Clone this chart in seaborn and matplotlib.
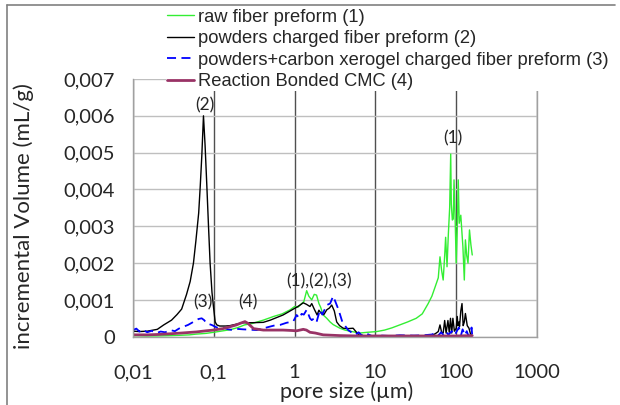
import matplotlib
matplotlib.use("Agg")
import matplotlib.pyplot as plt
import seaborn as sns
import pandas as pd
from matplotlib.lines import Line2D
from matplotlib.ticker import FixedLocator, FuncFormatter

# (pore size um, incremental volume mL/g)
raw_fiber = [
    (0.01, 0.00003), (0.015, 0.00002), (0.02, 0.00002), (0.03, 0.00003), (0.04, 0.00004),
    (0.05, 0.00005), (0.06, 0.00007), (0.08, 0.00009), (0.1, 0.00012), (0.13, 0.00016),
    (0.16, 0.00019), (0.2, 0.00025), (0.24, 0.00032), (0.3, 0.00036), (0.41, 0.00045),
    (0.55, 0.00055), (0.7, 0.00062), (0.88, 0.00073), (1.0, 0.00082), (1.1, 0.0008),
    (1.22, 0.0009), (1.3, 0.00095), (1.41, 0.00125), (1.5, 0.0011), (1.63, 0.001),
    (1.75, 0.00115), (1.87, 0.00113), (2.0, 0.0009), (2.1, 0.0008), (2.26, 0.00059),
    (2.5, 0.0005), (2.75, 0.0004), (3.0, 0.00033), (3.3, 0.00028), (3.64, 0.00023),
    (4.2, 0.00018), (5.1, 0.00014), (6.4, 0.0001), (8, 0.00012), (10.4, 0.00014),
    (13, 0.00018), (16, 0.00024), (20, 0.00032), (25, 0.0004), (32, 0.0005),
    (38, 0.00062), (45, 0.0009), (50, 0.0011), (55, 0.00136), (60, 0.0016),
    (63, 0.00217), (66, 0.0018), (69, 0.00154), (72, 0.0022), (74, 0.0027),
    (77, 0.0019), (80, 0.0028), (83, 0.0035), (85.5, 0.00496), (87, 0.0036),
    (89.6, 0.00317), (92, 0.0032), (94, 0.00426), (97, 0.0032), (100, 0.002),
    (103, 0.0029), (106, 0.00426), (109, 0.00308), (114, 0.0033), (118, 0.0028),
    (121, 0.00245), (126, 0.00154), (130, 0.00263), (135, 0.0022), (140, 0.002),
    (146, 0.0029), (152, 0.0025), (158, 0.00222),
]

powders_charged = [
    (0.01, 0.00015), (0.012, 0.00014), (0.015, 0.00015), (0.02, 0.0002), (0.024, 0.00032),
    (0.03, 0.00045), (0.035, 0.0006), (0.04, 0.00075), (0.046, 0.00115), (0.051, 0.0015),
    (0.056, 0.002), (0.06, 0.0026), (0.065, 0.00336), (0.068, 0.0041), (0.071, 0.0049),
    (0.0745, 0.006), (0.078, 0.0052), (0.082, 0.0041), (0.086, 0.003), (0.09, 0.002),
    (0.095, 0.0012), (0.099, 0.00082), (0.104, 0.0004), (0.109, 0.00032), (0.118, 0.00029),
    (0.125, 0.00029), (0.14, 0.00029), (0.158, 0.0003), (0.19, 0.00034), (0.23, 0.00038),
    (0.3, 0.00038), (0.41, 0.00039), (0.5, 0.00045), (0.6, 0.00052), (0.72, 0.00059),
    (0.85, 0.00068), (1.0, 0.00077), (1.06, 0.0008), (1.15, 0.00085), (1.28, 0.00092),
    (1.4, 0.00088), (1.55, 0.00082), (1.63, 0.0009), (1.75, 0.00075), (1.9, 0.00059),
    (2.0, 0.00072), (2.1, 0.00065), (2.3, 0.0006), (2.5, 0.00073), (2.7, 0.00078),
    (2.88, 0.00086), (3.1, 0.0007), (3.32, 0.0004), (3.6, 0.0003), (4.0, 0.00023),
    (4.6, 0.00022), (5.3, 0.00023), (6.2, 0.00005), (7, 0.00003), (9, 0.00002),
    (12, 0.00001), (16, 0.00002), (20, 0.00001), (25, 0.00002), (30, 0.00001),
    (35, 0.00002), (40, 0.00002), (45, 0.00005), (50, 0.00004), (55, 0.00008),
    (60, 0.00014), (63, 0.00032), (66, 0.00012), (69, 0.0001), (72, 0.00044),
    (75, 0.0001), (79, 0.00044), (82, 0.00012), (85, 0.0005), (88, 0.0001),
    (91, 0.0005), (95, 0.00015), (100, 0.00023), (103, 0.00055), (105, 0.0003),
    (108, 0.0004), (110, 0.00028), (114, 0.0007), (118, 0.0009), (122, 0.0003),
    (126, 0.0004), (130, 0.00063), (137, 0.0003), (144, 0.00023), (150, 0.00008),
    (158, 0.00003),
]

powders_xerogel = [
    (0.01, 0.00018), (0.011, 0.00022), (0.012, 0.00014), (0.013, 0.0002), (0.015, 0.00012),
    (0.017, 0.00016), (0.0196, 0.0001), (0.022, 0.00014), (0.025, 0.00012), (0.029, 0.00018),
    (0.033, 0.00015), (0.037, 0.00022), (0.042, 0.00027), (0.048, 0.00032), (0.0557, 0.0004),
    (0.0646, 0.00048), (0.0708, 0.0005), (0.076, 0.00045), (0.0817, 0.00036), (0.088, 0.00034),
    (0.094, 0.00032), (0.109, 0.00025), (0.13, 0.00025), (0.15, 0.0002), (0.174, 0.00018),
    (0.2, 0.00021), (0.23, 0.0002), (0.28, 0.00019), (0.34, 0.00018), (0.45, 0.00025),
    (0.55, 0.0003), (0.66, 0.00032), (0.8, 0.00038), (0.96, 0.00041), (1.06, 0.00059),
    (1.15, 0.0005), (1.22, 0.00062), (1.3, 0.0006), (1.41, 0.00073), (1.55, 0.0005),
    (1.63, 0.00045), (1.75, 0.0005), (1.87, 0.0004), (2.06, 0.00073), (2.2, 0.0006),
    (2.5, 0.00086), (2.75, 0.0009), (3.0, 0.0011), (3.2, 0.00095), (3.5, 0.00073),
    (3.9, 0.0004), (4.6, 0.00018), (5.6, 0.00005), (6.2, 0.00012), (6.8, 0.00003),
    (7.5, 0.0001), (9, 0.00002), (12, 0.00003), (15, 0.00002), (20, 0.00004),
    (30, 0.00003), (40, 0.00004), (50, 0.00006), (55, 0.0001), (60, 0.00003),
    (65, 0.00012), (70, 0.00004), (75, 0.00014), (80, 0.00005), (88, 0.00015),
    (95, 0.00004), (100, 0.00012), (108, 0.00025), (115, 0.00005), (120, 0.0002),
    (128, 0.00004), (135, 0.00015), (142, 0.00002), (150, 0.0001), (155, 0.00025),
    (158, 0.00002),
]

reaction_bonded = [
    (0.01, 0.00005), (0.015, 0.00005), (0.02, 0.00006), (0.029, 0.00008), (0.04, 0.0001),
    (0.061, 0.00013), (0.08, 0.00016), (0.099, 0.00018), (0.13, 0.00022), (0.158, 0.00027),
    (0.19, 0.00032), (0.21, 0.00036), (0.243, 0.00041), (0.266, 0.00036), (0.29, 0.00028),
    (0.31, 0.00022), (0.41, 0.00018), (0.55, 0.00018), (0.72, 0.00018), (0.9, 0.00017),
    (1.06, 0.00016), (1.28, 0.0002), (1.4, 0.00018), (1.55, 0.00012), (1.8, 0.0001),
    (2.06, 0.00007), (2.26, 0.00005), (3.6, 0.00003), (6, 0.00002), (20, 0.00002),
    (60, 0.00002), (100, 0.00002), (158, 0.00003),
]

labels = [
    "raw fiber preform (1)",
    "powders charged fiber preform (2)",
    "powders+carbon xerogel charged fiber preform (3)",
    "Reaction Bonded CMC (4)",
]
x_ticks = [0.01, 0.1, 1, 10, 100, 1000]
y_ticks = [0, 0.001, 0.002, 0.003, 0.004, 0.005, 0.006, 0.007]

# peak annotations: (text, x, y)
peak_notes = [
    ("(2)", 0.078, 0.00627),
    ("(3)", 0.0735, 0.00092),
    ("(4)", 0.265, 0.00092),
    ("(1),(2),(3)", 2.0, 0.00149),
    ("(1)", 91, 0.0054),
]

sns.set_theme(style="white")
plt.rcParams["font.family"] = ["Lato", "DejaVu Sans"]

fig = plt.figure(figsize=(6.2, 4.05), dpi=100)
ax = fig.add_axes([133 / 620, 1 - 336.7 / 405, 404 / 620, (336.7 - 79) / 405])

series = [raw_fiber, powders_charged, powders_xerogel, reaction_bonded]
styles = [
    dict(color="#33ee33", lw=1.0),
    dict(color="black", lw=1.0),
    dict(color="#0000ff", lw=1.3, dashes=(5, 3)),
    dict(color="#993366", lw=2.0),
]
for data, lab, st in zip(series, labels, styles):
    df = pd.DataFrame(data, columns=["size", "vol"])
    sns.lineplot(data=df, x="size", y="vol", ax=ax, sort=False, estimator=None,
                 label=lab, **st)

ax.set_xscale("log")
ax.set_xlim(0.01, 1000)
ax.set_ylim(0, 0.007)
ax.xaxis.set_major_locator(FixedLocator(x_ticks))
ax.xaxis.set_minor_locator(FixedLocator([]))
ax.yaxis.set_major_locator(FixedLocator(y_ticks))
ax.xaxis.set_major_formatter(FuncFormatter(lambda v, p: ("%g" % v).replace(".", ",")))
ax.yaxis.set_major_formatter(FuncFormatter(lambda v, p: "0" if v == 0 else ("%.3f" % v).replace(".", ",")))

ax.grid(axis="y", color="#bfbfbf", lw=1.0)
ax.grid(axis="x", color="#505050", lw=1.0)
for s in ax.spines.values():
    s.set_color("#a0a0a0")
    s.set_linewidth(1.0)
ax.spines["top"].set_visible(False)
ax.tick_params(axis="x", direction="out", length=5, color="#a0a0a0", pad=15, labelsize=14.5)
ax.tick_params(axis="y", left=False, labelsize=14.5, pad=7)

ax.set_xlabel("pore size (µm)", fontsize=15.5)
ax.xaxis.set_label_coords(0.53, -0.175)
ax.set_ylabel("incremental Volume (mL/g)", fontsize=16)
ax.yaxis.set_label_coords(-0.245, 0.47)

for txt, x, y in peak_notes:
    ax.text(x, y, txt, ha="center", va="center", fontsize=12.5, zorder=7)

handles, labs = ax.get_legend_handles_labels()
ax.get_legend().remove()
leg = ax.legend(handles, labs, loc="upper left", bbox_to_anchor=(166 / 620, 1 - 8 / 405),
                bbox_transform=fig.transFigure,
                frameon=True, facecolor="white", edgecolor="none", framealpha=1,
                handlelength=1.45, handletextpad=0.25, labelspacing=0.24,
                borderpad=0.05, borderaxespad=0,
                prop={"family": ["Liberation Sans", "DejaVu Sans"], "size": 13.2})
leg.set_zorder(5)

# thin frame around the chart area (top and left edges)
fig.add_artist(Line2D([7 / 620, 615 / 620], [1 - 5 / 405, 1 - 5 / 405], color="#808080", lw=1.2))
fig.add_artist(Line2D([7 / 620, 7 / 620], [1 - 5 / 405, 0], color="#808080", lw=1.2))

fig.savefig("out.png", dpi=100)
